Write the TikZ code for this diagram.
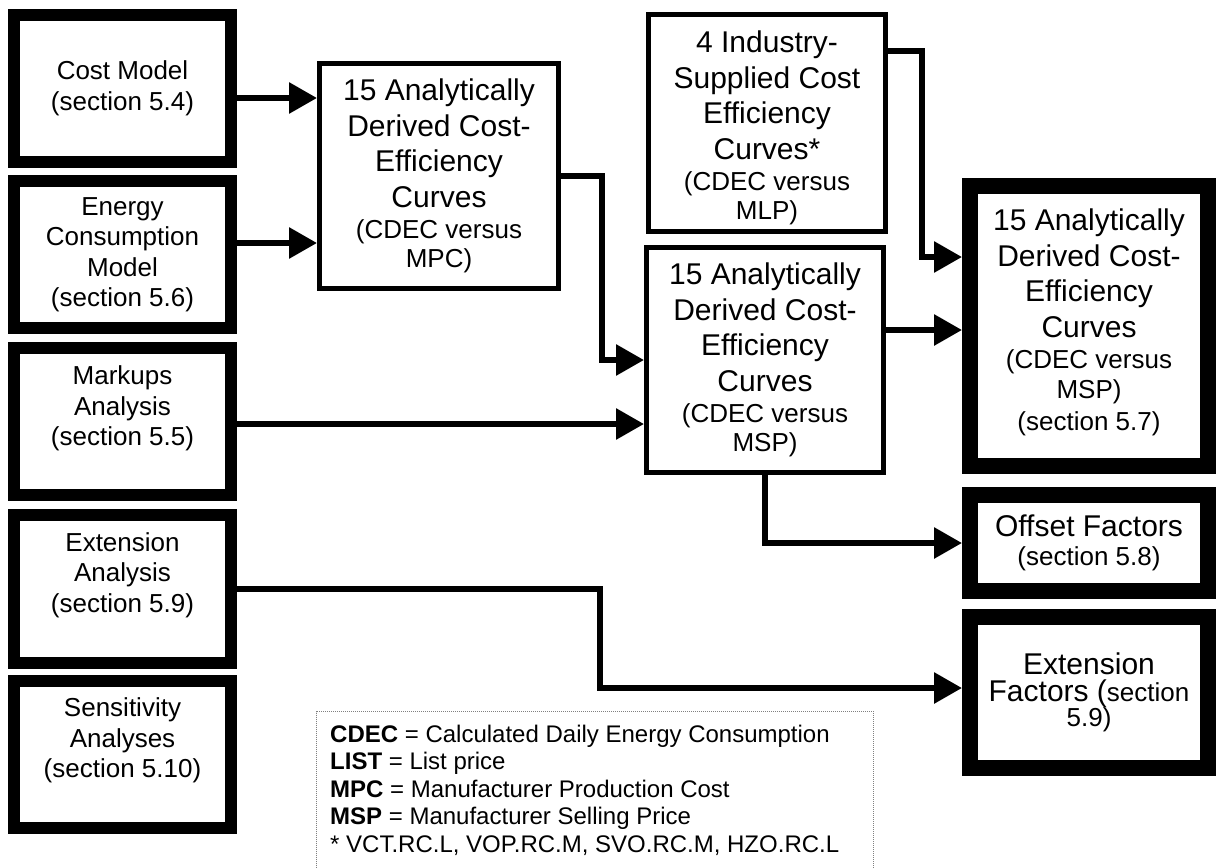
\documentclass[tikz,border=0pt]{standalone}
\usepackage{fontspec}
\setmainfont{Liberation Sans}
\usetikzlibrary{arrows.meta}
\newcommand\ttlfont{\fontsize{30}{35.5}\selectfont}
\newcommand\subfont{\fontsize{26}{30}\selectfont}
\newcommand\lbfont{\fontsize{26}{30.5}\selectfont}
\newcommand\lgfont{\fontsize{24}{27.5}\selectfont}
\begin{document}
\begin{tikzpicture}[x=1pt,y=-1pt,
  lbox/.style={draw, line width=12pt, minimum width=217pt, minimum height=147pt, inner sep=0pt},
  ltxt/.style={align=center, font=\lbfont, inner sep=0pt},
  mbox/.style={draw, line width=5pt, minimum width=237pt, inner sep=0pt, align=center, font=\ttlfont},
  bbox/.style={draw, line width=16pt, minimum width=238pt, inner sep=0pt, align=center, font=\ttlfont},
  legbox/.style={draw=gray, densely dotted, line width=1pt, inner sep=0pt},
  legtxt/.style={align=left, font=\lgfont, inner sep=0pt},
  conn/.style={line width=6pt, -{Triangle[length=28pt,width=30pt]}}]
\fill[white] (0,0) rectangle (1217,867);
\useasboundingbox (0,0) rectangle (1217,867);

% left column
\node[lbox] (cm) at (122.5,88.5) {};
\node[ltxt] (cmt) at (cm.center) {Cost Model\\(section 5.4)};
\node[lbox] (ec) at (122.5,254.5) {};
\node[ltxt] (ect) at (ec.center) {Energy\\Consumption\\Model\\(section 5.6)};
\node[lbox] (mk) at (122.5,421.5) {};
\node[ltxt] (mkt) at ([yshift=13pt]mk.center) {Markups\\Analysis\\(section 5.5)};
\node[lbox, minimum height=148pt] (ea) at (122.5,589) {};
\node[ltxt] (eat) at ([yshift=14pt]ea.center) {Extension\\Analysis\\(section 5.9)};
\node[lbox] (sa) at (122.5,754.5) {};
\node[ltxt] (sat) at ([yshift=14pt]sa.center) {Sensitivity\\Analyses\\(section 5.10)};

% middle
\node[mbox, minimum width=239pt, minimum height=225pt] (mpc) at (439,176)
  {15 Analytically\\Derived Cost-\\Efficiency\\Curves\\[-4pt]{\subfont (CDEC versus}\\[-7pt]{\subfont MPC)}};
\node[mbox, minimum height=217pt] (ind) at (767,123)
  {\rule{0pt}{31pt}4 Industry-\\Supplied Cost\\Efficiency\\Curves*\\[-4pt]{\subfont (CDEC versus}\\[-7pt]{\subfont MLP)}};
\node[mbox, minimum height=225pt] (msp) at (765,360)
  {15 Analytically\\Derived Cost-\\Efficiency\\Curves\\[-4pt]{\subfont (CDEC versus}\\[-7pt]{\subfont MSP)}};

% right
\node[bbox, minimum height=280pt] (fin) at (1089,326)
  {15 Analytically\\Derived Cost-\\Efficiency\\Curves\\[-4pt]{\subfont (CDEC versus}\\[-6pt]{\subfont MSP)}\\[-3pt]{\subfont (section 5.7)\rule[-12pt]{0pt}{12pt}}};
\node[bbox, minimum height=96pt] (off) at (1089,543)
  {Offset Factors\\[-7pt]{\subfont (section 5.8)}};
\node[bbox, minimum height=151pt] (ef) at (1089,692.5)
  {Extension\\[-9pt]Factors ({\subfont section}\\[-10pt]{\subfont 5.9)}};

% legend
\node[legbox, anchor=north west, minimum width=557pt, minimum height=165pt] (leg) at (316,711) {};
\node[legtxt, anchor=north west] (legt) at (330,724.5)
  {\textbf{CDEC} = Calculated Daily Energy Consumption\\
   \textbf{LIST} = List price\\
   \textbf{MPC} = Manufacturer Production Cost\\
   \textbf{MSP} = Manufacturer Selling Price\\
   * VCT.RC.L, VOP.RC.M, SVO.RC.M, HZO.RC.L};

% connectors
\draw[conn] (cm.east |- 0,98) -- (mpc.west |- 0,98);
\draw[conn] (ec.east |- 0,243) -- (mpc.west |- 0,243);
\draw[conn] (mk.east |- 0,424) -- (msp.west |- 0,424);
\draw[conn] (mpc.east) -- ++(41,0) |- (msp.west);
\draw[conn] (ind.east |- 0,51) -- ++(34,0) |- (fin.west |- 0,257);
\draw[conn] (msp.east |- 0,330) -- (fin.west |- 0,330);
\draw[conn] (msp.south) |- (off.west);
\draw[conn] (ea.east) -- ++(363,0) |- (ef.west |- 0,688);
\end{tikzpicture}
\end{document}
